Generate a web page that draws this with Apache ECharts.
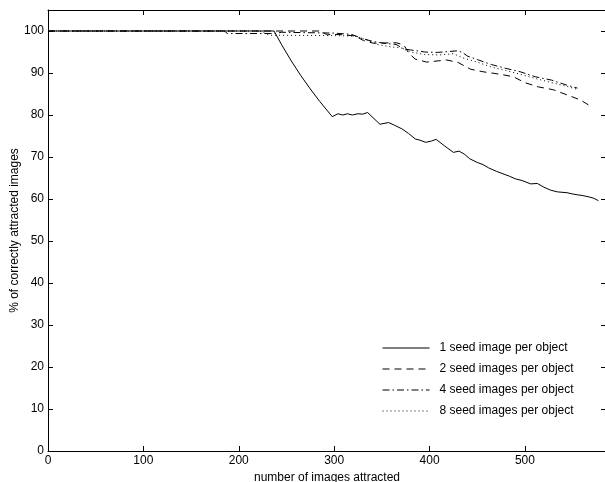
<!DOCTYPE html>
<html>
<head>
<meta charset="utf-8">
<script src="https://cdn.jsdelivr.net/npm/echarts@6/dist/echarts.min.js"></script>
<style>html,body{margin:0;padding:0;background:#fff}#c{width:605px;height:482px}</style>
</head>
<body>
<div id="c"></div>
<script>
var seriesNames = ['1 seed image per object', '2 seed images per object', '4 seed images per object', '8 seed images per object'];
var xTicks = [0, 100, 200, 300, 400, 500];
var yTicks = [0, 10, 20, 30, 40, 50, 60, 70, 80, 90, 100];

var seed1 = [[0,100],[237,100],[245,96.7],[255,92.9],[265,89.4],[275,86.2],[285,83.2],[298,79.6],[304,80.3],[309,80.0],[314,80.3],[319,80.0],[325,80.3],[330,80.2],[335,80.6],[348,77.8],[357,78.2],[363,77.6],[371,76.7],[378,75.6],[385,74.3],[390,74.0],[396,73.5],[402,73.8],[407,74.2],[416,72.6],[425,71.1],[431,71.4],[437,70.6],[442,69.6],[450,68.7],[456,68.2],[462,67.4],[470,66.6],[477,66.0],[484,65.4],[490,64.8],[497,64.4],[506,63.6],[513,63.7],[520,62.8],[527,62.1],[534,61.7],[544,61.5],[550,61.2],[555,61.0],[561,60.8],[567,60.5],[572,60.2],[577,59.6]];
var seed2 = [[0,100],[285,100],[293,99.1],[300,99.2],[310,99.1],[322,98.8],[331,97.7],[341,97.1],[350,97.1],[358,97.2],[365,97.2],[373,96.7],[378,94.8],[385,93.3],[397,92.6],[418,93.1],[430,92.5],[443,90.9],[456,90.3],[474,89.7],[488,89.1],[500,87.7],[514,86.7],[530,86.0],[544,84.8],[558,83.6],[571,81.8]];
var seed4 = [[0,100],[185,100],[188,99.4],[238,99.4],[245,99.7],[300,99.5],[318,99.2],[324,98.7],[331,98.1],[341,97.5],[355,97.0],[365,96.8],[373,95.7],[380,95.5],[395,95.0],[408,94.9],[420,95.1],[430,95.3],[435,94.8],[440,94.0],[450,93.2],[465,92.0],[480,91.1],[495,90.3],[511,89.1],[528,88.3],[544,87.1],[555,86.4]];
var seed8 = [[0,100],[222,100],[232,99.0],[300,98.9],[322,98.8],[335,97.8],[345,96.8],[360,96.2],[370,96.0],[380,95.0],[395,94.4],[410,94.3],[425,94.6],[435,93.6],[450,92.6],[465,91.4],[480,90.6],[495,89.7],[511,88.7],[528,87.7],[544,86.8],[555,86.1]];

var font = 'Liberation Sans, Arial, sans-serif';
var chart = echarts.init(document.getElementById('c'));
function mkSeries(name, data, type) {
  return {
    name: name, type: 'line', data: data, symbol: 'none', showSymbol: false,
    xAxisIndex: 0, yAxisIndex: 0, animation: false,
    lineStyle: { color: '#000', width: 1, type: type },
    itemStyle: { color: '#000' }
  };
}
var tickStyle = { show: true, inside: true, length: 5, lineStyle: { color: '#000', width: 1 } };
chart.setOption({
  animation: false,
  backgroundColor: '#fff',
  grid: { left: 48, right: -1, top: 10, bottom: 31, containLabel: false, outerBoundsMode: 'none' },
  legend: {
    orient: 'vertical', left: 382, top: 342, padding: 0,
    itemWidth: 47, itemHeight: 14, itemGap: 9,
    itemStyle: { opacity: 0 },
    lineStyle: { width: 1 },
    textStyle: { fontFamily: font, fontSize: 12, color: '#000', padding: [0,0,0,5] },
    data: seriesNames
  },
  xAxis: [{
    type: 'value', position: 'bottom', min: 0, max: 585, interval: 100,
    name: 'number of images attracted', nameLocation: 'middle', nameGap: 21,
    nameTextStyle: { fontFamily: font, fontSize: 12, color: '#000' },
    axisLine: { show: true, onZero: false, lineStyle: { color: '#000', width: 1 } },
    axisTick: tickStyle,
    axisLabel: { fontFamily: font, fontSize: 12, color: '#000', margin: 4,
      formatter: function (v) { return xTicks.indexOf(v) >= 0 ? String(v) : ''; } },
    splitLine: { show: false }
  }, {
    type: 'value', position: 'top', min: 0, max: 585, interval: 100,
    axisLine: { show: true, onZero: false, lineStyle: { color: '#000', width: 1 } },
    axisTick: tickStyle, axisLabel: { show: false }, splitLine: { show: false }
  }],
  yAxis: [{
    type: 'value', position: 'left', min: 0, max: 105, interval: 10,
    name: '% of correctly attracted images', nameLocation: 'middle', nameGap: 27,
    nameMoveOverlap: false,
    nameTextStyle: { fontFamily: font, fontSize: 12, color: '#000' },
    axisLine: { show: true, onZero: false, lineStyle: { color: '#000', width: 1 } },
    axisTick: tickStyle,
    axisLabel: { fontFamily: font, fontSize: 12, color: '#000', margin: 4,
      formatter: function (v) { return yTicks.indexOf(v) >= 0 ? String(v) : ''; } },
    splitLine: { show: false }
  }, {
    type: 'value', position: 'right', min: 0, max: 105, interval: 10,
    axisLine: { show: true, onZero: false, lineStyle: { color: '#000', width: 1 } },
    axisTick: tickStyle, axisLabel: { show: false }, splitLine: { show: false }
  }],
  series: [
    mkSeries(seriesNames[0], seed1, 'solid'),
    mkSeries(seriesNames[1], seed2, [7, 5]),
    mkSeries(seriesNames[2], seed4, [7, 3, 1.5, 3]),
    mkSeries(seriesNames[3], seed8, [1, 3])
  ]
});
</script>
</body>
</html>
